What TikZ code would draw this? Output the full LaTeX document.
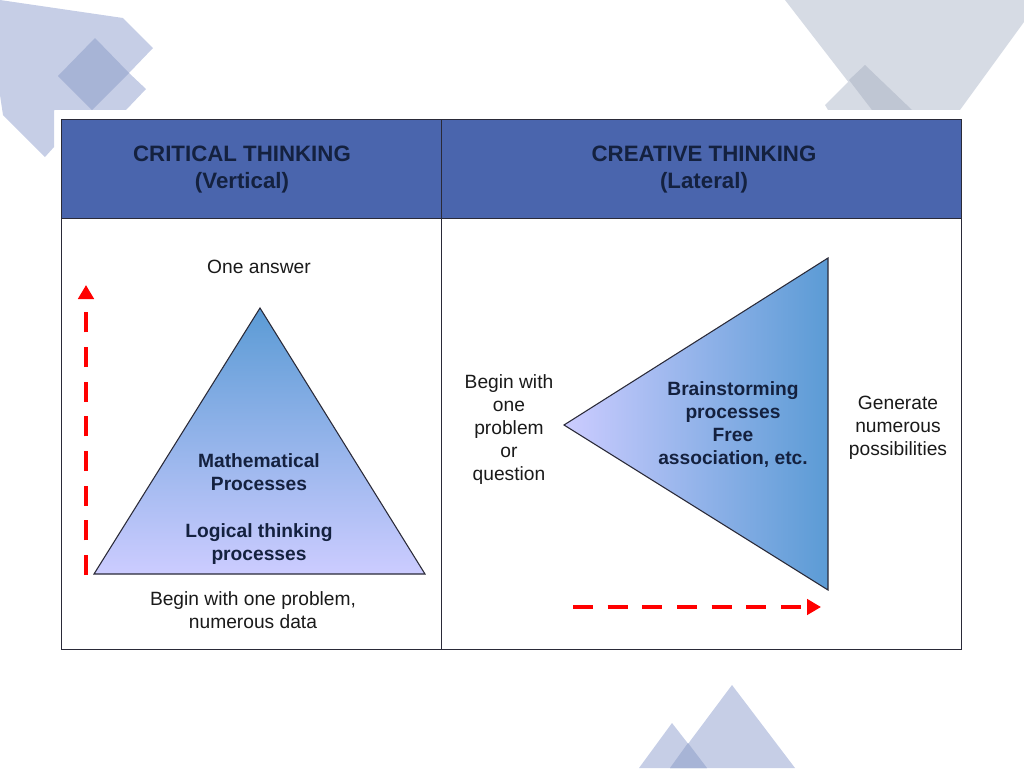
\documentclass[tikz,border=0pt]{standalone}
\usepackage{fontspec}
\setmainfont{Liberation Sans}
\usetikzlibrary{arrows.meta}
\definecolor{decoA}{HTML}{C6CEE6}
\definecolor{decoB}{HTML}{A7B4D6}
\definecolor{decoC}{HTML}{D6DBE4}
\definecolor{decoD}{HTML}{BFC6D3}
\definecolor{headblue}{HTML}{4A65AD}
\definecolor{headtext}{HTML}{14213F}
\definecolor{gradA}{HTML}{5B9BD5}
\definecolor{gradB}{HTML}{CCCCFF}
\definecolor{bodytext}{HTML}{1A1A1A}
\definecolor{linecol}{HTML}{2A2A38}
\tikzset{
  cell/.style={draw=linecol,line width=0.75pt},
  tri/.style={draw=linecol,line width=0.8pt},
  hdr/.style={align=center,text=headtext,font=\fontsize{16.7}{20.25}\selectfont\bfseries,inner sep=0pt},
  lbl/.style={align=center,text=bodytext,font=\fontsize{14.4}{17.25}\selectfont,inner sep=0pt},
  blbl/.style={align=center,text=headtext,font=\fontsize{14.4}{17.25}\selectfont\bfseries,inner sep=0pt},
  redarrow/.style={draw=red,line width=3.5pt,dash pattern=on 15pt off 11pt,-{Triangle[length=10.5pt,width=11.5pt,fill=red]}}
}
\begin{document}
\begin{tikzpicture}[x=0.75pt,y=-0.75pt]
\useasboundingbox (0,0) rectangle (1024,768);
% decoration top left
\fill[decoA] (0,0) -- (123,18) -- (153,48) -- (129,73) -- (146,89) -- (126,110) -- (54,110) -- (54,147) -- (45,157) -- (3,115) -- (0,95) -- cycle;
\fill[decoB] (95,38) -- (129,73) -- (92,110) -- (58,76) -- cycle;
% decoration top right
\fill[decoC] (785,0) -- (1024,0) -- (1024,22) -- (960,110) -- (870,110) -- cycle;
\fill[decoC] (865,65) -- (912,110) -- (828,110) -- (825,105) -- cycle;
\fill[decoD] (849,80) -- (865,65) -- (912,110) -- (872,110) -- cycle;
% decoration bottom
\fill[decoA] (672,723) -- (707,768) -- (639,768) -- cycle;
\fill[decoA] (732,685) -- (795,768) -- (670,768) -- cycle;
\fill[decoB] (688,743) -- (707,768) -- (670,768) -- cycle;
% table
\fill[white] (55,110) rectangle (968,656);
\fill[headblue] (61,119) rectangle (961,218);
\draw[cell] (61,119) rectangle (961,649);
\draw[cell] (61,218) -- (961,218);
\draw[cell] (441,119) -- (441,649);
% triangles
\shade[top color=gradA,bottom color=gradB] (260,308) -- (425,574) -- (94,574) -- cycle;
\draw[tri] (260,308) -- (425,574) -- (94,574) -- cycle;
\shade[left color=gradB,right color=gradA] (564,425) -- (828,258) -- (828,590) -- cycle;
\draw[tri] (564,425) -- (828,258) -- (828,590) -- cycle;
% arrows
\coordinate (vs) at (86,575);
\coordinate (ve) at (86,285);
\coordinate (hs) at (573,607);
\coordinate (he) at (821,607);
\draw[redarrow] (vs) -- (ve);
\draw[redarrow] (hs) -- (he);
% text
\node[hdr] (h1) at (242,170) {CRITICAL THINKING\\(Vertical)};
\node[hdr] (h2) at (704,170) {CREATIVE THINKING\\(Lateral)};
\node[lbl] (oneans) at (259,267) {One answer};
\node[blbl] (math) at (259,472) {Mathematical\\Processes};
\node[blbl] (logic) at (259,544) {Logical thinking\\processes};
\node[lbl] (begin1) at (253,610) {Begin with one problem,\\numerous data};
\node[lbl] (begin2) at (509,429.5) {Begin with\\one\\problem\\or\\question};
\node[blbl] (brain) at (733,425) {Brainstorming\\processes\\Free\\association, etc.};
\node[lbl] (gen) at (898,427.5) {Generate\\numerous\\possibilities};
\end{tikzpicture}
\end{document}
